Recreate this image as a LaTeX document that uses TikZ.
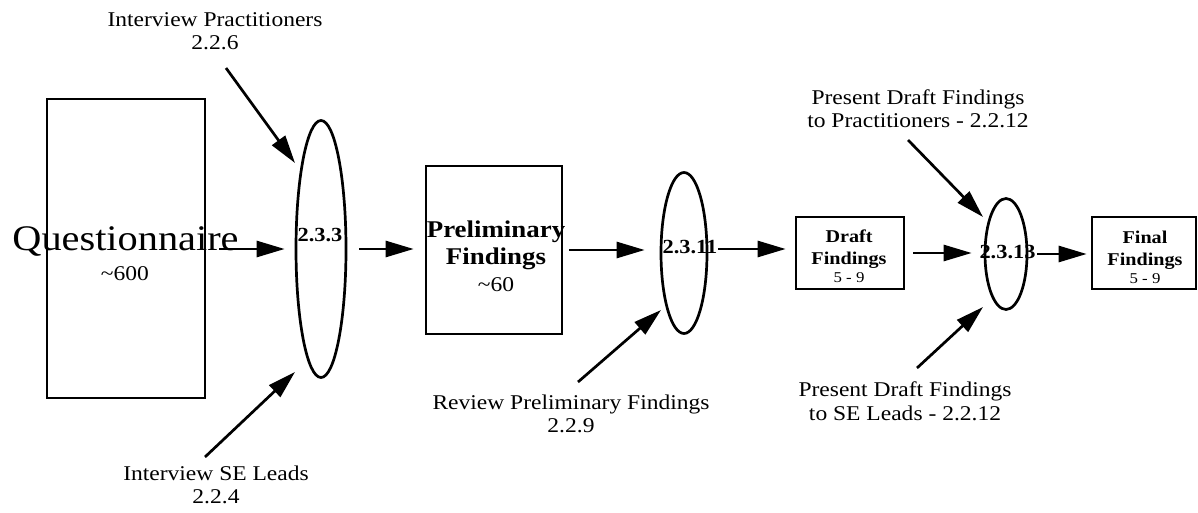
\documentclass[tikz,border=0pt]{standalone}
\usepackage{fontspec}
\setmainfont{Liberation Serif}[FakeStretch=1.12]
\usetikzlibrary{arrows.meta,shapes.geometric}
\begin{document}
\begin{tikzpicture}[x=1pt,y=-1pt,
  box/.style={draw, line width=2.7pt, rectangle, inner sep=0pt},
  oval/.style={draw, line width=2.7pt, ellipse, inner sep=0pt},
  arr/.style={line width=2.7pt, -{Triangle[length=28pt,width=16pt]}},
  lbl/.style={align=center, inner sep=0pt, font=\fontsize{21}{23.5}\selectfont},
  big/.style={inner sep=0pt, font=\fontsize{36}{40}\selectfont},
  small/.style={inner sep=0pt, font=\fontsize{21}{23.5}\selectfont},
  tiny/.style={inner sep=0pt, font=\fontsize{15}{17}\selectfont},
  num/.style={inner sep=0pt, font=\bfseries\fontsize{20}{22}\selectfont},
  head/.style={inner sep=0pt, align=center, font=\bfseries\fontsize{24}{27}\selectfont},
  headsm/.style={inner sep=0pt, align=center, font=\bfseries\fontsize{18}{21}\selectfont}]
\useasboundingbox (0,0) rectangle (1198,513);

% boxes
\node[box, minimum width=158pt, minimum height=299pt] (q) at (126,248.5) {};
\node[box, minimum width=136pt, minimum height=168pt] (p) at (494,250) {};
\node[box, minimum width=108pt, minimum height=72pt] (d) at (850,253) {};
\node[box, minimum width=104pt, minimum height=72pt] (f) at (1144,253) {};

% process ovals
\node[oval, minimum width=50pt, minimum height=257pt] (e1) at (321,249) {};
\node[oval, minimum width=46pt, minimum height=161pt] (e2) at (684,253) {};
\node[oval, minimum width=42pt, minimum height=111pt] (e3) at (1006,254) {};

% texts of the boxes
\node[big, anchor=base] (qt) at (125.5,250) {Questionnaire};
\node[small, anchor=base] (qn) at (125,280) {\textasciitilde600};
\node[head, anchor=base] (pt1) at (496,237) {Preliminary};
\node[head, anchor=base] (pt2) at (496,264) {Findings};
\node[small, anchor=base] (pn) at (496,291) {\textasciitilde60};
\node[headsm, anchor=base] (dt1) at (849,242.5) {Draft};
\node[headsm, anchor=base] (dt2) at (849,264) {Findings};
\node[tiny, anchor=base] (dn) at (849,282.5) {5 - 9};
\node[headsm, anchor=base] (ft1) at (1145,243) {Final};
\node[headsm, anchor=base] (ft2) at (1145,265) {Findings};
\node[tiny, anchor=base] (fn) at (1145,283) {5 - 9};

% texts of the ovals
\node[num, anchor=base] (n1) at (320,241.5) {2.3.3};
\node[num, anchor=base] (n2) at (690,253) {2.3.11};
\node[num, anchor=base] (n3) at (1007.5,258) {2.3.13};

% activity labels
\node[lbl] (ip) at (215,31) {Interview Practitioners\\2.2.6};
\node[lbl] (ise) at (216,485) {Interview SE Leads\\2.2.4};
\node[lbl] (rv) at (571,414) {Review Preliminary Findings\\2.2.9};
\node[lbl] (pp) at (918,109) {Present Draft Findings\\to Practitioners - 2.2.12};
\node[lbl] (pse) at (905,401.5) {Present Draft Findings\\to SE Leads - 2.2.12};

% free ends of the label arrows
\coordinate (ip-s) at (226,68);   \coordinate (ip-t) at (295,163);
\coordinate (ise-s) at (205,457); \coordinate (ise-t) at (295,372);
\coordinate (rv-s) at (578,382);  \coordinate (rv-t) at (661,310);
\coordinate (pp-s) at (908,140);  \coordinate (pp-t) at (983,217);
\coordinate (pse-s) at (917,368); \coordinate (pse-t) at (983,307);

% main flow
\draw[arr, shorten <=13pt, shorten >=10pt] (q.east |- e1.west) -- (e1.west);
\draw[arr, shorten <=12pt, shorten >=11pt] (e1.east) -- (e1.east -| p.west);
\draw[arr, shorten <=6pt, shorten >=15pt] (p.east) -- (p.east -| e2.west);
\draw[arr, shorten <=10pt, shorten >=9pt] ([yshift=4pt]e2.east) -- ([yshift=4pt]e2.east -| d.west);
\draw[arr, shorten <=8pt, shorten >=12pt] (d.east) -- (d.east -| e3.west);
\draw[arr, shorten <=9pt, shorten >=4pt] (e3.east) -- (e3.east -| f.west);

% inputs from the activities
\draw[arr] (ip-s) -- (ip-t);
\draw[arr] (ise-s) -- (ise-t);
\draw[arr] (rv-s) -- (rv-t);
\draw[arr] (pp-s) -- (pp-t);
\draw[arr] (pse-s) -- (pse-t);
\end{tikzpicture}
\end{document}
